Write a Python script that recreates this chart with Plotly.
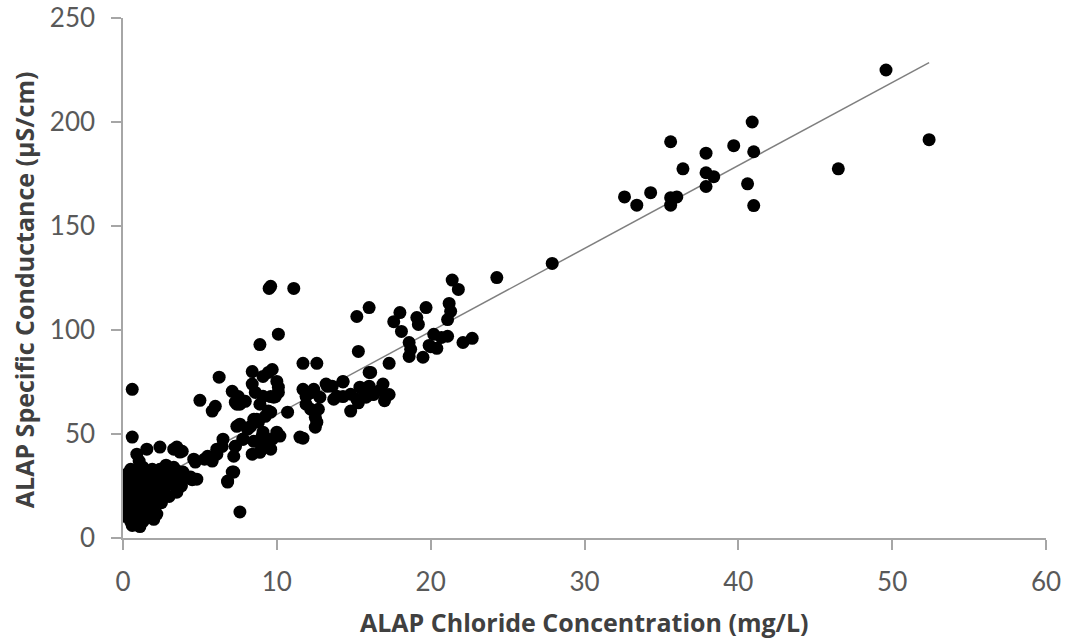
import plotly.graph_objects as go

# Chloride concentration (mg/L) and specific conductance (uS/cm)
chloride = [
    # dense cluster near origin
    0.1, 0.3, 0.5, 0.6, 0.8, 1.0, 1.1, 1.3, 1.5, 1.2, 0.9, 0.4, 0.2, 0.6, 0.8, 1.0,
    1.4, 1.7, 2.0, 2.2, 1.8, 2.1, 0.3, 0.5, 0.2, 0.7, 1.0, 1.3, 1.6, 1.9, 2.3, 2.5,
    0.4, 0.6, 0.9, 1.2, 1.5, 1.8, 2.1, 2.6, 2.9, 3.2, 0.5, 0.8, 1.1, 1.4, 1.7, 2.0,
    2.3, 2.7, 3.0, 3.4, 3.6, 1.3, 1.9, 2.4, 2.8, 3.3, 4.0, 4.5, 0.3, 0.7, 1.0, 0.4,
    1.1, 0.6, 0.9, 1.6, 2.5, 2.7, 3.8, 4.3, 1.0, 2.0, 2.5, 3.0, 3.5,
    # low band
    0.6, 0.6, 1.55, 2.4, 0.9, 1.05, 3.3, 3.85, 3.5, 3.7, 4.6, 5.3, 6.1, 6.45, 3.9,
    4.4, 4.8, 6.8, 7.2, 5.5, 7.2, 6.5, 7.3, 7.8, 7.1, 7.6, 6.8, 8.4, 9.25, 8.9,
    9.1, 9.6, 4.7, 5.8,
    # 5-13 mg/L band
    7.4, 8.1, 8.7, 9.25, 9.6, 9.1, 8.5, 9.4, 10.0, 10.2, 8.9, 9.1, 7.8, 7.3, 6.1,
    8.5, 8.8, 8.3, 7.6, 9.05, 9.7, 9.45, 11.5, 11.7,
    5.0, 6.0, 5.8, 6.25, 8.4, 9.7, 9.1, 9.45, 10.0, 10.1, 8.4, 8.6, 7.1, 7.3, 7.5,
    7.4, 7.95, 7.6, 9.8, 9.1, 8.9, 9.6, 9.9, 10.7, 10.1, 8.9, 10.1, 9.5, 9.6, 11.1,
    11.7, 12.6, 11.7, 11.9, 12.3, 12.8, 13.3, 11.9, 12.2, 12.7, 12.5, 12.6, 12.5,
    12.0, 12.4, 13.2, 13.6, 14.3, 13.7, 14.3, 14.8, 15.2, 15.8, 16.3,
    # 14-23 mg/L band
    14.3, 15.4, 16.9, 16.2, 14.8, 13.9, 15.3, 15.7, 16.7, 17.0, 17.3, 16.0, 16.0,
    16.1, 17.3, 15.3, 18.1, 18.6, 18.7, 18.6, 19.9, 20.4, 19.5, 20.2, 20.7, 21.1,
    22.1, 22.7, 15.2, 16.0, 18.0, 17.6, 19.7, 19.1, 19.2, 21.2, 21.3, 21.1, 21.4,
    21.8, 20.0,
    # upper points
    24.3, 27.9, 32.6, 33.4, 34.3, 35.6, 35.6, 36.0, 35.6, 36.4, 37.9, 37.9, 38.4,
    37.9, 39.7, 40.9, 41.0, 40.6, 41.0, 46.5, 49.6, 52.4,
]
conductance = [
    # dense cluster near origin
    10.5, 12, 8, 6, 9, 7, 5.5, 8, 10, 12, 14, 15, 18, 20, 17, 19,
    15, 13, 9, 11.5, 16, 18, 22, 24, 26, 25, 23, 21, 20, 22, 20, 23,
    28, 30, 27, 26, 25, 27, 26, 25, 27, 26, 33, 32, 31, 29, 31, 30,
    29, 30, 31, 29, 32, 34, 33, 33, 35, 34, 30, 28, 31, 11, 14, 17,
    21, 27, 24, 23, 28, 22, 25, 29, 10, 13, 17, 20, 22,
    # low band
    71.5, 48.5, 42.7, 43.7, 40.3, 37, 42.7, 41.7, 43.7, 41.3, 37.9, 37.9, 40.3, 44, 31.7,
    29.3, 28.3, 27.4, 31.7, 39.3, 39.3, 47.5, 44.1, 47.5, 31.7, 12.5, 26.9, 40.3, 44.1, 41.3,
    44.1, 42.7, 36.5, 37,
    # 5-13 mg/L band
    53.7, 52.3, 57.1, 58.5, 60.5, 50.9, 46.5, 47.5, 50.9, 49, 41.3, 44.1, 47.5, 44.1, 42.7,
    57.1, 55.7, 53.7, 54.7, 49, 47.5, 61, 48.5, 48,
    66.2, 63.3, 61, 77.3, 80, 81, 77.7, 79.6, 75.3, 72.5, 74, 70, 70.5, 65.3, 68,
    64.3, 65.7, 64.3, 67.7, 68.1, 64.3, 68, 68, 60.5, 98, 93, 70, 120, 121, 120,
    84, 84, 71.5, 68.1, 70, 67.7, 72.9, 64.3, 61.9, 61.9, 58, 55.7, 53.3,
    70, 71.5, 74, 73, 75.3, 66.7, 68, 61, 66.7, 67.7, 69,
    # 14-23 mg/L band
    75, 72.5, 74, 69.1, 69.1, 68.1, 65, 69, 71, 66, 69, 79.6, 73,
    79.6, 84, 89.7, 99.3, 94, 90.7, 87.3, 92.6, 91.2, 86.9, 97.9, 96.4, 97,
    94, 96, 106.5, 110.8, 108.4, 104, 110.8, 106, 102.7, 112.8, 109, 105, 124,
    119.5, 92,
    # upper points
    125.2, 132, 164, 160, 166, 190.5, 163.6, 164, 160, 177.5, 185, 175.6, 173.7,
    169, 188.6, 200, 185.7, 170.3, 159.8, 177.5, 225, 191.5,
]

# Linear trendline (slope, intercept)
trend_slope = 3.99
trend_intercept = 19.5

x_min = min(chloride)
x_max = max(chloride)
trend_x = [x_min, x_max]
trend_y = [trend_slope * v + trend_intercept for v in trend_x]

x_ticks = [0, 10, 20, 30, 40, 50, 60]
y_ticks = [0, 50, 100, 150, 200, 250]

x_title = "ALAP Chloride Concentration (mg/L)"
y_title = "ALAP Specific Conductance (µS/cm)"

fig = go.Figure()
fig.add_trace(go.Scatter(
    x=trend_x, y=trend_y, mode="lines",
    line=dict(color="#7f7f7f", width=1.5),
    showlegend=False, hoverinfo="skip",
))
fig.add_trace(go.Scatter(
    x=chloride, y=conductance, mode="markers",
    marker=dict(color="black", size=13, line=dict(width=0)),
    showlegend=False,
))

axis_font = dict(family="Lato, Calibri, sans-serif", size=26, color="#595959")
title_font = dict(family="Open Sans, sans-serif", size=25, color="#404040")

common = dict(
    ticks="outside", ticklen=10, tickcolor="#a6a6a6", tickwidth=1.5,
    showline=True, linecolor="#a6a6a6", linewidth=1.5,
    showgrid=False, zeroline=False, tickfont=axis_font, automargin=False,
    ticklabeloverflow="allow",
)

fig.update_layout(
    width=1067, height=640,
    margin=dict(l=123, r=21, t=18, b=102),
    paper_bgcolor="white", plot_bgcolor="white",
    xaxis=dict(range=[0, 60], tickvals=x_ticks, ticklabelstandoff=10, **common),
    yaxis=dict(range=[0, 250], tickvals=y_ticks, ticklabelstandoff=11, **common),
    annotations=[
        dict(text="<b>" + x_title + "</b>", xref="paper", yref="paper",
             x=0.5, y=-0.162, xanchor="center", yanchor="middle",
             showarrow=False, font=title_font),
        dict(text="<b>" + y_title + "</b>", xref="paper", yref="paper",
             x=-0.107, y=0.477, xanchor="center", yanchor="middle",
             textangle=-90, showarrow=False, font=title_font),
    ],
)

# remove the default page margin so the figure fills the window exactly
fig.write_html(
    "out.html",
    config={"displayModeBar": False},
    post_script="document.body.style.margin='0';document.body.style.overflow='hidden';",
)
